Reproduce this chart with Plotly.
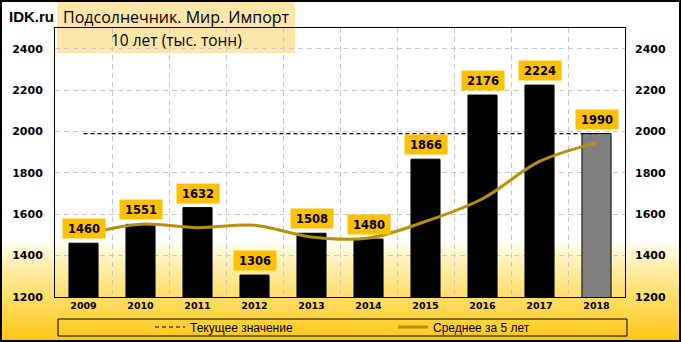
import plotly.graph_objects as go

years = ['2009', '2010', '2011', '2012', '2013', '2014', '2015', '2016', '2017', '2018']
imports = [1460, 1551, 1632, 1306, 1508, 1480, 1866, 2176, 2224, 1990]
avg5 = [1500, 1552, 1535, 1547, 1490, 1485, 1565, 1675, 1855, 1945]
current_value = [1990] * len(years)
y_ticks = [1200, 1400, 1600, 1800, 2000, 2200, 2400]

W, H = 681, 342
L, R, T, B = 55, 56, 28, 45
PW, PH = W - L - R, H - T - B


def px(x):
    return (x - L) / PW


def py(y):
    return (H - B - y) / PH


bar_colors = ['#000000'] * (len(years) - 1) + ['#808080']

fig = go.Figure()
fig.add_trace(go.Scatter(x=years, y=current_value, mode='lines', name='Текущее значение',
                         legend='legend', line=dict(color='black', width=1.2, dash='4px,3px')))
fig.add_trace(go.Bar(x=years, y=imports, width=0.51, marker=dict(color=bar_colors, line=dict(color='black', width=1)),
                     showlegend=False))
fig.add_trace(go.Scatter(x=years, y=avg5, mode='lines', name='Среднее за 5 лет', legend='legend2',
                         line=dict(color='#B8900A', width=3, shape='spline', smoothing=1.0)))
fig.add_trace(go.Scatter(x=years, y=imports, yaxis='y2', mode='markers', marker=dict(opacity=0),
                         showlegend=False, hoverinfo='skip'))

shapes = []
# background gradient
y0, y1 = 242, H
n = 50
for i in range(n):
    ya = y0 + (y1 - y0) * i / n
    yb = y0 + (y1 - y0) * (i + 1) / n + 0.5
    t = (i + 0.5) / n
    g = round(255 - (255 - 198) * t ** 0.9)
    b = round(255 - (255 - 20) * t ** 0.75)
    shapes.append(dict(type='rect', xref='paper', yref='paper', layer='below',
                       x0=px(0), x1=px(W), y0=py(yb), y1=py(ya),
                       fillcolor=f'rgb(255,{g},{b})', line=dict(width=0)))
# title box
shapes.append(dict(type='rect', xref='paper', yref='paper', layer='below',
                   x0=px(57), x1=px(295), y0=py(53), y1=py(0),
                   fillcolor='rgba(252,205,80,0.5)', line=dict(width=0)))
# legend box
shapes.append(dict(type='rect', xref='paper', yref='paper',
                   x0=px(58), x1=px(627), y0=py(336), y1=py(319),
                   fillcolor='rgba(0,0,0,0)', line=dict(color='black', width=1)))
# outer border
shapes.append(dict(type='rect', xref='paper', yref='paper',
                   x0=px(1), x1=px(W - 1), y0=py(H - 1), y1=py(1),
                   fillcolor='rgba(0,0,0,0)', line=dict(color='black', width=2)))

annotations = []
for i, v in enumerate(imports):
    annotations.append(dict(x=i, y=v, xref='x', yref='y', text=f'<b>{v}</b>', showarrow=False,
                            yanchor='bottom', yshift=4, bgcolor='#FFC000', width=40, height=17,
                            borderpad=1, font=dict(family='DejaVu Sans', size=11.5, color='black')))
annotations.append(dict(x=px(176), y=py(17), xref='paper', yref='paper', text='Подсолнечник. Мир. Импорт',
                        xanchor='center', yanchor='middle', showarrow=False,
                        font=dict(family='Open Sans', size=16, color='black')))
annotations.append(dict(x=px(176), y=py(40), xref='paper', yref='paper', text='10 лет (тыс. тонн)',
                        xanchor='center', yanchor='middle', showarrow=False,
                        font=dict(family='Open Sans', size=15.5, color='black')))
annotations.append(dict(x=px(31), y=py(16), xref='paper', yref='paper', text='<b>IDK.ru</b>',
                        xanchor='center', yanchor='middle', showarrow=False,
                        font=dict(family='Liberation Sans', size=15, color='black')))

tickfont = dict(family='DejaVu Sans', size=11, color='black', weight='bold')
legfont = dict(family='Liberation Sans', size=12, color='black')

fig.update_layout(
    width=W, height=H,
    margin=dict(l=L, r=R, t=T, b=B, autoexpand=False),
    paper_bgcolor='white', plot_bgcolor='rgba(0,0,0,0)',
    shapes=shapes, annotations=annotations,
    showlegend=True,
    legend=dict(x=px(150), y=py(327), xanchor='left', yanchor='middle',
                bgcolor='rgba(0,0,0,0)', borderwidth=0, font=legfont),
    legend2=dict(x=px(393), y=py(327), xanchor='left', yanchor='middle',
                 bgcolor='rgba(0,0,0,0)', borderwidth=0, font=legfont),
    xaxis=dict(type='category', range=[-0.5, 9.5], showline=True, linecolor='black', linewidth=1, mirror=True,
               showgrid=True, gridcolor='#C8C8C8', griddash='5px,4px', gridwidth=1,
               tickson='boundaries', ticks='', tickangle=0,
               tickfont=dict(family='DejaVu Sans', size=9.5, color='black', weight='bold')),
    yaxis=dict(range=[1200, 2500], tickvals=y_ticks, showline=True, linecolor='black', linewidth=1,
               mirror=True, showgrid=True, gridcolor='#C8C8C8', griddash='5px,4px', gridwidth=1,
               zeroline=False, ticks='', ticklabelstandoff=9, tickfont=tickfont),
    yaxis2=dict(range=[1200, 2500], tickvals=y_ticks, overlaying='y', side='right', showgrid=False,
                zeroline=False, showline=False, ticks='', ticklabelstandoff=9, tickfont=tickfont),
)

fig.write_html('out.html')
